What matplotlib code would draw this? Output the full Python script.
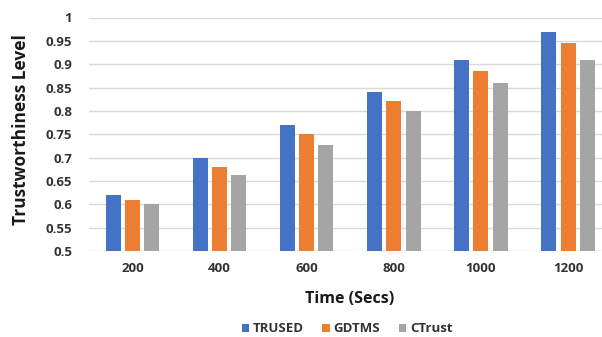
import numpy as np
import matplotlib
matplotlib.use("Agg")
import matplotlib.pyplot as plt

# ── data ────────────────────────────────────────────────────────────────────
times = ["200", "400", "600", "800", "1000", "1200"]
trused = [0.62, 0.70, 0.77, 0.84, 0.91, 0.97]
gdtms = [0.61, 0.68, 0.75, 0.822, 0.885, 0.945]
ctrust = [0.60, 0.662, 0.728, 0.80, 0.86, 0.91]
series = [("TRUSED", trused, "#4472C4"),
          ("GDTMS", gdtms, "#ED7D31"),
          ("CTrust", ctrust, "#A5A5A5")]
yticks = [0.5, 0.55, 0.6, 0.65, 0.7, 0.75, 0.8, 0.85, 0.9, 0.95, 1.0]
ytick_labels = ["0.5", "0.55", "0.6", "0.65", "0.7", "0.75", "0.8",
                "0.85", "0.9", "0.95", "1"]

plt.rcParams["font.family"] = ["Open Sans", "DejaVu Sans"]
txt = "#333333"

fig = plt.figure(figsize=(6.02, 3.37), dpi=100)
# plot area runs past the right edge, as in the cropped original
ax = fig.add_axes([89 / 602, 1 - 251 / 337, (611.6 - 89) / 602, (251 - 17.5) / 337])

x = np.arange(len(times))
bw = 0.172
step = 0.22
for i, (name, vals, col) in enumerate(series):
    ax.bar(x + (i - 1) * step, np.array(vals) - 0.5, bw, bottom=0.5,
           color=col, label=name, zorder=3)

ax.set_xlim(-0.5, len(times) - 0.5)
ax.set_ylim(0.5, 1.0)
ax.set_yticks(yticks)
ax.set_yticklabels(ytick_labels, fontsize=9.5, fontweight="bold", color=txt)
ax.set_xticks(x)
ax.set_xticklabels(times, fontsize=9.5, fontweight="bold", color=txt)
ax.tick_params(length=0, pad=8)
ax.tick_params(axis="y", pad=12)
ax.grid(axis="y", color="#D9D9D9", lw=1, zorder=0)
for s in ax.spines.values():
    s.set_visible(False)

fig.text(350 / 602, 1 - 299 / 337, "Time (Secs)", ha="center", va="center",
         fontsize=11.5, fontweight="bold", color="#1a1a1a")
fig.text(21 / 602, 1 - 130 / 337, "Trustworthiness Level", ha="center",
         va="center", rotation=90, fontsize=12.5, fontweight="bold",
         color="#1a1a1a")

leg = fig.legend(loc="center", bbox_to_anchor=(347 / 602, 1 - 329 / 337),
                 ncol=3, frameon=False, fontsize=9.5, handlelength=0.55,
                 handleheight=0.55, handletextpad=0.3, columnspacing=1.4)
for t in leg.get_texts():
    t.set_fontweight("bold")
    t.set_color(txt)

fig.savefig("out.png", dpi=100)
